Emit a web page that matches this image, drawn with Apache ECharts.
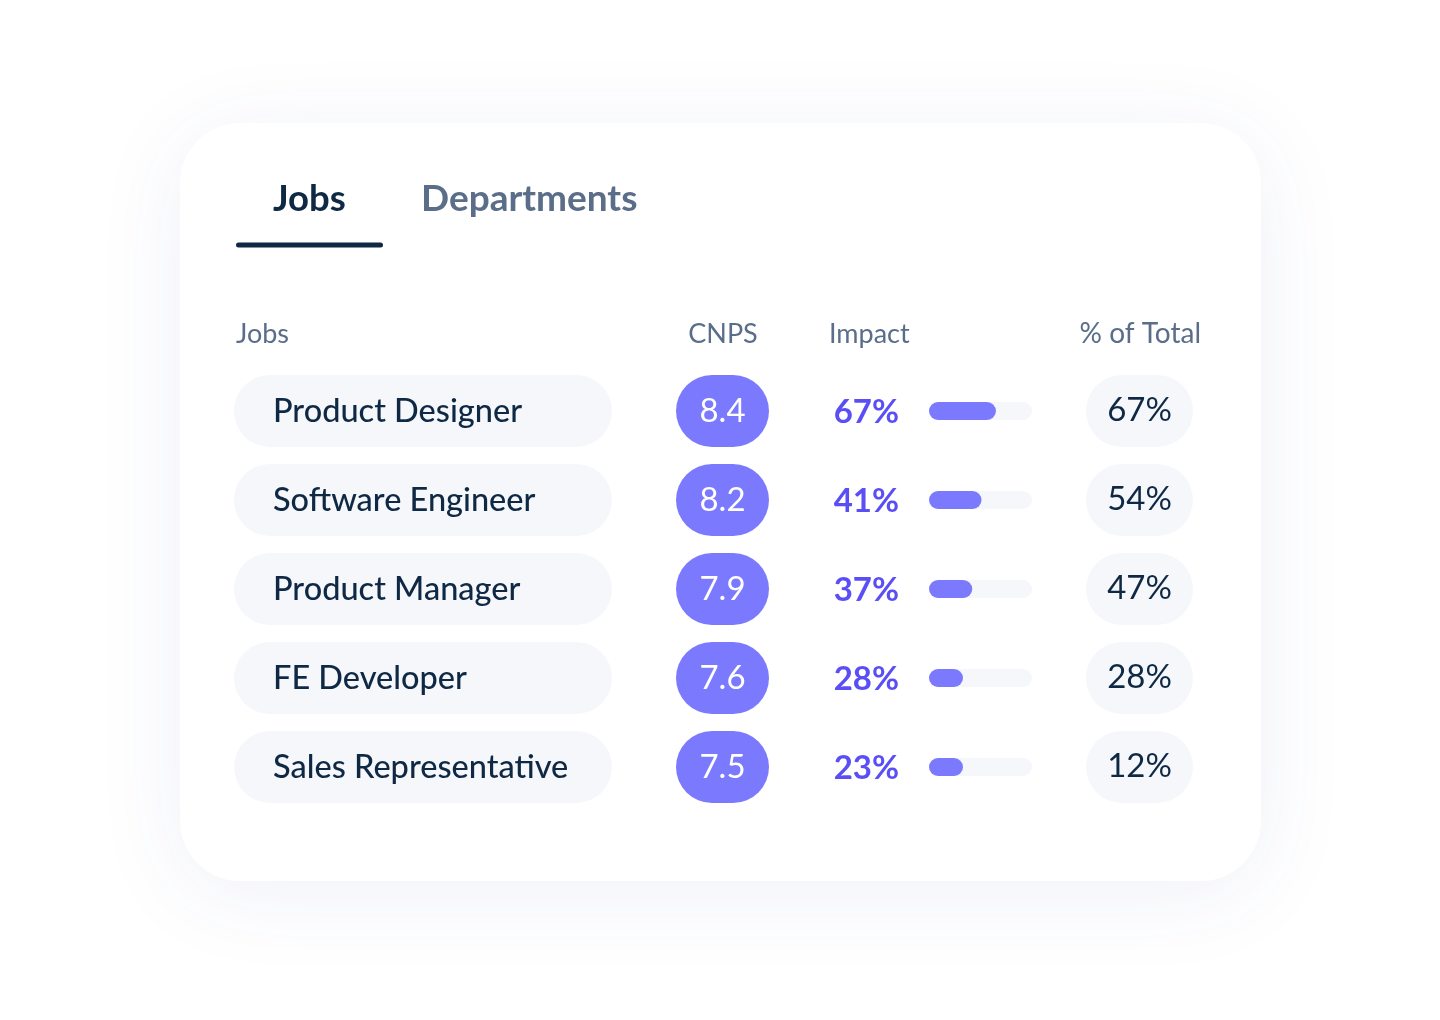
<!DOCTYPE html>
<html>
<head>
<meta charset="utf-8">
<script src="https://cdn.jsdelivr.net/npm/echarts@6/dist/echarts.min.js"></script>
<style>
html,body{margin:0;padding:0;background:#ffffff;}
#chart{width:1440px;height:1020px;}
</style>
</head>
<body>
<div id="chart"></div>
<script>
// ---- data ----
const jobs = ['Product Designer', 'Software Engineer', 'Product Manager', 'FE Developer', 'Sales Representative'];
const cnps = [8.4, 8.2, 7.9, 7.6, 7.5];
const impact = [67, 41, 37, 28, 23];
const impactBarLevel = [65, 51, 42, 33, 33]; // bar fill (0-100 track)
const pctOfTotal = [67, 54, 47, 28, 12];
const tabs = ['Jobs', 'Departments'];
const headers = ['Jobs', 'CNPS', 'Impact', '% of Total'];

const FONT = 'Lato, "Noto Sans", sans-serif';
const DARK = '#0f2945';
const GREY = '#5a6d89';
const PILL = '#f5f7fb';
const PURPLE = '#7b79fd';
const PURPLE_TXT = '#5a4ff5';

const TOP = 366.5, BOTTOM = 1020 - 811.5;
const cols = [
  {left: 234, right: 612},
  {left: 676, right: 769},
  {left: 929, right: 1032},
  {left: 1086, right: 1193}
];

const grids = cols.map(c => ({left: c.left, width: c.right - c.left, top: TOP, bottom: BOTTOM, containLabel: false}));
const xAxes = cols.map((c, i) => ({gridIndex: i, type: 'value', min: 0, max: i === 2 ? 100 : 1, show: false}));
const yAxes = cols.map((c, i) => ({gridIndex: i, type: 'category', data: jobs, inverse: true, show: false}));

const chart = echarts.init(document.getElementById('chart'), null, {renderer: 'canvas'});

const option = {
  animation: false,
  backgroundColor: '#ffffff',
  grid: grids,
  xAxis: xAxes,
  yAxis: yAxes,
  graphic: [
    {type: 'rect', z: -10, shape: {x: 180, y: 123, width: 1081, height: 758, r: 60},
      style: {fill: '#ffffff', shadowBlur: 90, shadowColor: 'rgba(60,80,160,0.08)', shadowOffsetY: 12}},
    {type: 'text', x: 273, y: 199, style: {text: tabs[0], font: '700 36.5px ' + FONT, fill: DARK, textVerticalAlign: 'middle'}},
    {type: 'text', x: 421, y: 199, style: {text: tabs[1], font: '700 37px ' + FONT, fill: GREY, textVerticalAlign: 'middle'}},
    {type: 'rect', shape: {x: 236, y: 242.5, width: 147, height: 5, r: 2.5}, style: {fill: DARK}},
    {type: 'text', x: 236, y: 334, style: {text: headers[0], font: '400 27px ' + FONT, fill: GREY, textVerticalAlign: 'middle'}},
    {type: 'text', x: 723, y: 334, style: {text: headers[1], font: '400 27px ' + FONT, fill: GREY, textAlign: 'center', textVerticalAlign: 'middle'}},
    {type: 'text', x: 829, y: 334, style: {text: headers[2], font: '400 27px ' + FONT, fill: GREY, textVerticalAlign: 'middle'}},
    {type: 'text', x: 1201, y: 334, style: {text: headers[3], font: '400 28px ' + FONT, fill: GREY, textAlign: 'right', textVerticalAlign: 'middle'}}
  ],
  series: [
    {
      type: 'bar', xAxisIndex: 0, yAxisIndex: 0, barWidth: 72,
      data: jobs.map(j => ({value: 1, name: j})),
      itemStyle: {color: PILL, borderRadius: 36},
      label: {show: true, position: 'insideLeft', distance: 39, offset: [0, 1], formatter: p => p.name,
        color: DARK, fontFamily: FONT, fontSize: 32.5, fontWeight: 500}
    },
    {
      type: 'bar', xAxisIndex: 1, yAxisIndex: 1, barWidth: 72,
      data: cnps.map(v => ({value: 1, label: {formatter: v.toFixed(1)}})),
      itemStyle: {color: PURPLE, borderRadius: 36},
      label: {show: true, position: 'inside', color: '#ffffff', fontFamily: FONT, fontSize: 33, fontWeight: 400}
    },
    {
      type: 'bar', xAxisIndex: 2, yAxisIndex: 2, barWidth: 18, barGap: '-100%',
      data: impact.map(v => ({value: 100, label: {formatter: v + '%'}})),
      itemStyle: {color: PILL, borderRadius: 9},
      label: {show: true, position: 'left', distance: 30, offset: [0, 1], color: PURPLE_TXT, fontFamily: FONT, fontSize: 33, fontWeight: 700},
      z: 1
    },
    {
      type: 'bar', xAxisIndex: 2, yAxisIndex: 2, barWidth: 18, barGap: '-100%',
      data: impactBarLevel,
      itemStyle: {color: PURPLE, borderRadius: 9},
      z: 2
    },
    {
      type: 'bar', xAxisIndex: 3, yAxisIndex: 3, barWidth: 72,
      data: pctOfTotal.map(v => ({value: 1, label: {formatter: v + '%'}})),
      itemStyle: {color: PILL, borderRadius: 36},
      label: {show: true, position: 'inside', offset: [0, -1], color: DARK, fontFamily: FONT, fontSize: 33, fontWeight: 400}
    }
  ]
};
chart.setOption(option);
</script>
</body>
</html>
